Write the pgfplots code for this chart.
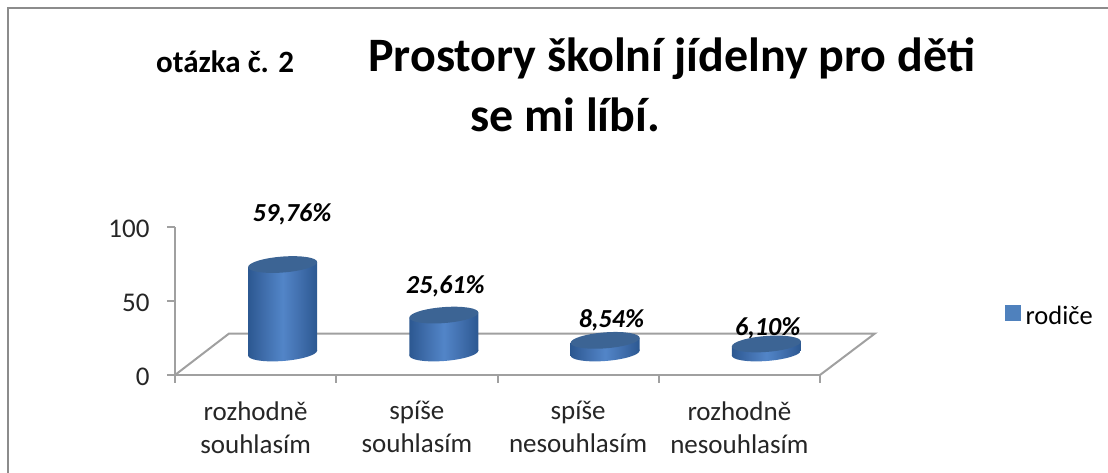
\documentclass[border=0pt]{standalone}
\usepackage{pgfplots}
\pgfplotsset{compat=1.18}
\usepackage{fontspec}
\setmainfont{Carlito}
\definecolor{edgeblue}{RGB}{44,88,145}
\definecolor{midblue}{RGB}{64,110,172}
\definecolor{lightblue}{RGB}{82,133,200}
\definecolor{topblue}{RGB}{60,100,148}
\definecolor{legblue}{RGB}{79,129,189}
\definecolor{axgrey}{RGB}{160,160,160}
\definecolor{framegrey}{RGB}{140,140,140}
\pgfdeclarehorizontalshading{cylshade}{100bp}{color(0bp)=(edgeblue); color(25bp)=(edgeblue); color(37bp)=(midblue); color(50bp)=(lightblue); color(63bp)=(midblue); color(75bp)=(edgeblue); color(100bp)=(edgeblue)}
% cylinder drawn from its top (the data point) down to the base; \cylh = value in pt
\pgfdeclareplotmark{cyl}{%
  \pgfpathmoveto{\pgfpoint{-34.5pt}{-2.5pt}}%
  \pgfpathlineto{\pgfpoint{34.5pt}{2.5pt}}%
  \pgfpathlineto{\pgfpoint{34.5pt}{2.5pt-\cylh pt}}%
  \pgfpathlineto{\pgfpoint{-34.5pt}{-2.5pt-\cylh pt}}%
  \pgfpathclose
  \pgfshadepath{cylshade}{0}\pgfusepath{discard}%
  \pgfpathellipse{\pgfpoint{0pt}{-\cylh pt}}{\pgfpoint{34.5pt}{2.5pt}}{\pgfpoint{0pt}{8pt}}%
  \pgfshadepath{cylshade}{0}\pgfusepath{discard}%
  \pgfsetfillcolor{topblue}%
  \pgfpathellipse{\pgfpointorigin}{\pgfpoint{34.5pt}{2.5pt}}{\pgfpoint{0pt}{8pt}}%
  \pgfusepath{fill}%
}
\pgfplotstableread{
x y
0.5 59.76
1.5 25.61
2.5 8.54
3.5 6.10
}\cyldata
\begin{document}
\begin{tikzpicture}[x=1pt,y=1pt]
\path[use as bounding box] (0,0) rectangle (1108,473);
\draw[framegrey,line width=2pt] (7.5,0) -- (7.5,464.5) -- (1108,464.5);
\node[anchor=base west,inner sep=0pt,font=\fontsize{31}{36}\selectfont\bfseries] at (156,400) {otázka č. 2};
\node[anchor=base west,inner sep=0pt,font=\fontsize{48}{56}\selectfont\bfseries] at (368,401) {Prostory školní jídelny pro děti};
\node[anchor=base west,inner sep=0pt,font=\fontsize{48}{56}\selectfont\bfseries] at (470,341) {se mi líbí.};
\begin{axis}[
  at={(175pt,98pt)},anchor=south west,scale only axis,
  width=645pt,height=148pt,
  xmin=0,xmax=4,ymin=0,ymax=100,
  clip=false,
  axis x line=bottom,axis y line=left,
  axis line style={-,draw=axgrey,line width=2pt},
  tick style={draw=axgrey,line width=2pt},
  tick align=outside,major tick length=8pt,
  xtick={0,1,2,3,4},xticklabels={},
  ytick={0,50,100},
  extra x ticks={0.5,1.5,2.5,3.5},
  extra x tick labels={{rozhodně\\souhlasím},{spíše\\souhlasím},{spíše\\nesouhlasím},{rozhodně\\nesouhlasím}},
  extra x tick style={major tick length=0pt,tick style={draw=none},
    xticklabel style={align=center,font=\fontsize{27}{33}\selectfont,text=black!85,yshift=-23pt}},
  /pgf/number format/assume math mode=true,
  yticklabel style={font=\fontsize{27}{32}\selectfont,text=black!85,xshift=-14pt,yshift=-2pt},
  legend style={draw=none,fill=none,anchor=west,font=\fontsize{26.5}{32}\selectfont,
    legend cell align=left,at={(1.2868,0.40)},inner sep=0pt},
  legend image code/.code={\fill[legblue] (0pt,-26.5pt) rectangle (15pt,-11.5pt);},
]
\addplot[draw=axgrey,line width=2pt,forget plot] coordinates {(0,0) (0.335,28) (4.34,28) (4,0)};
\addplot[only marks,mark=cyl,xshift=27pt,yshift=22pt,
  visualization depends on={rawy*1.48 \as \cylh}] table {\cyldata};
\addlegendentry{\hspace{3pt}rodiče}
\node[anchor=base,font=\fontsize{26}{30}\selectfont\bfseries\itshape] at (axis cs:0.726,103.4) {59,76\%};
\node[anchor=base,font=\fontsize{26}{30}\selectfont\bfseries\itshape] at (axis cs:1.677,55.2) {25,61\%};
\node[anchor=base,font=\fontsize{26}{30}\selectfont\bfseries\itshape] at (axis cs:2.706,32.4) {8,54\%};
\node[anchor=base,font=\fontsize{26}{30}\selectfont\bfseries\itshape] at (axis cs:3.675,27) {6,10\%};
\end{axis}
\end{tikzpicture}
\end{document}
